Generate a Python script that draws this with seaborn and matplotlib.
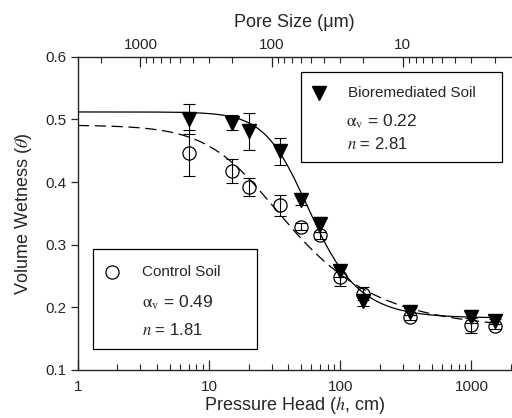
import numpy as np
import pandas as pd
import seaborn as sns
import matplotlib
matplotlib.use("Agg")
import matplotlib.pyplot as plt
from matplotlib.ticker import FixedLocator, FuncFormatter, LogLocator, NullFormatter
from matplotlib.patches import Rectangle
from matplotlib.lines import Line2D

# measured points (pressure head in cm)
head = [7, 15, 20, 35, 50, 70, 100, 150, 340, 1000, 1500]
bio_theta = [0.500, 0.495, 0.481, 0.449, 0.372, 0.333, 0.258, 0.210, 0.193, 0.185, 0.178]
bio_err = [0.024, 0.012, 0.029, 0.022, 0.009, 0.012, 0.010, 0.008, 0.006, 0.010, 0.004]
ctl_theta = [0.446, 0.418, 0.392, 0.363, 0.329, 0.315, 0.249, 0.222, 0.184, 0.171, 0.170]
ctl_err = [0.037, 0.019, 0.014, 0.017, 0.006, 0.006, 0.015, 0.010, 0.004, 0.012, 0.004]

# fitted van Genuchten parameters (alpha in the figure's units, per 10 cm)
bio_fit = {"alpha": 0.21, "n": 2.81, "ts": 0.512, "tr": 0.183}
ctl_fit = {"alpha": 0.49, "n": 1.81, "ts": 0.491, "tr": 0.165}
pore_const = 3000  # pore size (um) = const / h (cm)


def vg(h, p):
    m = 1 - 1 / p["n"]
    return p["tr"] + (p["ts"] - p["tr"]) / (1 + (p["alpha"] / 10 * h) ** p["n"]) ** m


h_fit = np.logspace(0, np.log10(1500), 300)
fits = pd.DataFrame({"h": h_fit, "bio": vg(h_fit, bio_fit), "ctl": vg(h_fit, ctl_fit)})

sns.set_style("ticks")
plt.rcParams["font.family"] = ["Liberation Sans", "DejaVu Sans"]
plt.rcParams["mathtext.fontset"] = "stix"

fig = plt.figure(figsize=(5.12, 4.18), dpi=100)
ax = fig.add_axes([0.152, 0.115, 0.846, 0.749])

sns.lineplot(data=fits, x="h", y="bio", ax=ax, color="k", lw=0.9)
sns.lineplot(data=fits, x="h", y="ctl", ax=ax, color="k", lw=0.9, dashes=False)
ax.lines[-1].set_dashes((9, 4.5))

ax.errorbar(head, bio_theta, yerr=bio_err, fmt="none", ecolor="k", elinewidth=0.8,
            capsize=4, capthick=0.8)
ax.errorbar(head, ctl_theta, yerr=ctl_err, fmt="none", ecolor="k", elinewidth=0.8,
            capsize=4, capthick=0.8)
ax.plot(head, ctl_theta, "o", ms=9.5, mfc="none", mec="k", mew=0.9)
ax.plot(head, bio_theta, "v", ms=10, mfc="k", mec="k")

ax.set_xscale("log")
ax.set_xlim(1, 2000)
ax.set_ylim(0.1, 0.6)
ax.set_yticks([0.1, 0.2, 0.3, 0.4, 0.5, 0.6])
ax.yaxis.set_major_formatter(FuncFormatter(lambda v, _: f"{v:.1f}"))
ax.xaxis.set_major_locator(FixedLocator([1, 10, 100, 1000]))
ax.xaxis.set_major_formatter(FuncFormatter(lambda v, _: f"{v:g}"))
ax.xaxis.set_minor_locator(LogLocator(base=10, subs=np.arange(2, 10)))
ax.xaxis.set_minor_formatter(NullFormatter())
ax.tick_params(axis="x", which="major", direction="in", length=7, width=0.9,
               labelsize=11, pad=7)
ax.tick_params(axis="x", which="minor", direction="in", length=4, width=0.8)
ax.tick_params(axis="y", direction="out", length=5, width=0.9, labelsize=11)
ax.spines["right"].set_visible(False)
ax.spines["top"].set_visible(False)
for s in ["left", "bottom"]:
    ax.spines[s].set_linewidth(1.0)

ax.set_xlabel("Pressure Head ($h$, cm)", fontsize=13, labelpad=1)
ax.set_ylabel(r"Volume Wetness ($\theta$)", fontsize=13, labelpad=8)


def to_pore(x):
    x = np.asarray(x, dtype=float)
    with np.errstate(divide="ignore"):
        return pore_const / x


secax = ax.secondary_xaxis("top", functions=(to_pore, to_pore))
secax.xaxis.set_major_locator(FixedLocator([10, 100, 1000]))
secax.xaxis.set_major_formatter(FuncFormatter(lambda v, _: f"{v:g}"))
secax.xaxis.set_minor_locator(LogLocator(base=10, subs=np.arange(2, 10)))
secax.xaxis.set_minor_formatter(NullFormatter())
secax.tick_params(which="major", direction="in", length=7, width=0.9, labelsize=11)
secax.tick_params(which="minor", direction="in", length=4, width=0.8)
secax.spines["top"].set_linewidth(1.0)
secax.set_xlabel("Pore Size (\u03bcm)", fontsize=13, labelpad=8)

alpha_lbl = "$\\mathrm{\u03b1}_{\\mathrm{v}}$"

# annotation boxes
ax.add_patch(Rectangle((0.515, 0.665), 0.464, 0.287, transform=ax.transAxes,
                       fc="white", ec="k", lw=0.9, zorder=5))
ax.add_line(Line2D([0.557], [0.885], transform=ax.transAxes, marker="v", ms=10,
                   mfc="k", mec="k", ls="none", zorder=6))
ax.text(0.624, 0.885, "Bioremediated Soil", transform=ax.transAxes, fontsize=11,
        va="center", zorder=6)
ax.text(0.619, 0.792, alpha_lbl + " = 0.22", transform=ax.transAxes,
        fontsize=12.5, va="center", zorder=6)
ax.text(0.621, 0.722, r"$n$ = 2.81", transform=ax.transAxes, fontsize=12,
        va="center", zorder=6)

ax.add_patch(Rectangle((0.035, 0.067), 0.378, 0.32, transform=ax.transAxes,
                       fc="white", ec="k", lw=0.9, zorder=5))
ax.add_line(Line2D([0.0785], [0.313], transform=ax.transAxes, marker="o", ms=9.5,
                   mfc="none", mec="k", mew=0.9, ls="none", zorder=6))
ax.text(0.148, 0.313, "Control Soil", transform=ax.transAxes, fontsize=11,
        va="center", zorder=6)
ax.text(0.148, 0.214, alpha_lbl + " = 0.49", transform=ax.transAxes,
        fontsize=12.5, va="center", zorder=6)
ax.text(0.148, 0.128, r"$n$ = 1.81", transform=ax.transAxes, fontsize=12,
        va="center", zorder=6)

fig.savefig("out.png", dpi=100)
